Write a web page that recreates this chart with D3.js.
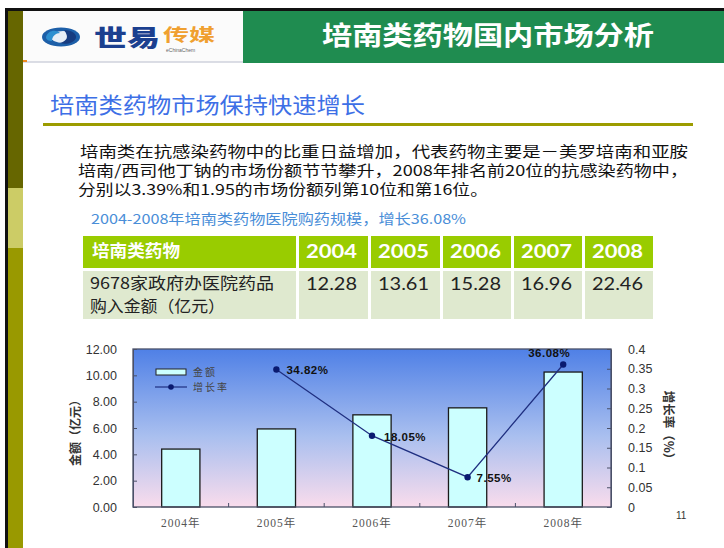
<!DOCTYPE html>
<html><head><meta charset="utf-8">
<script src="https://cdn.jsdelivr.net/npm/d3@7"></script>
<style>html,body{margin:0;padding:0;background:#fff;}svg{display:block;}</style>
</head><body>
<script>
// ---- data ----
const categories = ["2004年","2005年","2006年","2007年","2008年"];
const amounts = [4.40, 5.93, 7.00, 7.53, 10.25];
const growth = [null, 0.3482, 0.1805, 0.0755, 0.3608];
const growthLabels = ["", "34.82%", "18.05%", "7.55%", "36.08%"];
const leftTicks = [0, 2, 4, 6, 8, 10, 12];
const rightTicks = [0, 0.05, 0.1, 0.15, 0.2, 0.25, 0.3, 0.35, 0.4];
const rightTickLabels = ["0","0.05","0.1","0.15","0.2","0.25","0.3","0.35","0.4"];
const tableYears = ["2004","2005","2006","2007","2008"];
const tableValues = ["12.28","13.61","15.28","16.96","22.46"];
const paragraph = [
  "培南类在抗感染药物中的比重日益增加，代表药物主要是－美罗培南和亚胺",
  "培南/西司他丁钠的市场份额节节攀升，2008年排名前20位的抗感染药物中，",
  "分别以3.39%和1.95的市场份额列第10位和第16位。"
];

const W = 724, H = 548;
const svg = d3.select("body").append("svg").attr("width", W).attr("height", H)
  .style("font-family", "'Noto Sans CJK SC', sans-serif");
const defs = svg.append("defs");

// ---- slide frame ----
svg.append("rect").attr("x",0).attr("y",0).attr("width",W).attr("height",H).attr("fill","#fff");
svg.append("rect").attr("x",5).attr("y",8).attr("width",W-5).attr("height",3).attr("fill","#111");
svg.append("rect").attr("x",5).attr("y",8).attr("width",3).attr("height",H-8).attr("fill","#111");
svg.append("rect").attr("x",8).attr("y",11).attr("width",15).attr("height",177).attr("fill","#666600");
svg.append("rect").attr("x",8).attr("y",188).attr("width",15).attr("height",60).attr("fill","#cccc66");
svg.append("rect").attr("x",8).attr("y",248).attr("width",15).attr("height",H-248).attr("fill","#999900");

// header logo area
svg.append("rect").attr("x",23).attr("y",11).attr("width",220).attr("height",51).attr("fill","#fbfbfb");
svg.append("line").attr("x1",23).attr("x2",243).attr("y1",62).attr("y2",62).attr("stroke","#b8bccc").attr("stroke-width",1);
svg.append("rect").attr("x",23).attr("y",60).attr("width",4).attr("height",2).attr("fill","#f08a20");
// logo swirl
const lg = svg.append("g");
lg.append("ellipse").attr("cx",61).attr("cy",37).attr("rx",19).attr("ry",9.5).attr("fill","#1d5fa8");
lg.append("ellipse").attr("cx",63).attr("cy",37).attr("rx",12).attr("ry",6).attr("fill","#e8eef6");
lg.append("path").attr("d","M46,37 C48,30 56,29 60,33 C56,33 52,36 52,41 C49,41 46,40 46,37Z").attr("fill","#2d8fd0");
lg.append("path").attr("d","M64,30 C72,30 77,34 76,38 C74,43 66,45 60,43 C66,41 70,38 64,30Z").attr("fill","#173c80");
svg.append("text").attr("x",94).attr("y",46).attr("font-size",23).attr("font-weight",900)
  .attr("fill","#1b3f8f").attr("textLength",66).attr("lengthAdjust","spacingAndGlyphs").text("世易");
svg.append("text").attr("x",163).attr("y",41).attr("font-size",17).attr("font-weight",700)
  .attr("fill","#f0a030").attr("textLength",52).attr("lengthAdjust","spacingAndGlyphs").text("传媒");
svg.append("text").attr("x",166).attr("y",52).attr("font-size",5).attr("fill","#666")
  .style("font-family","Arial, sans-serif").text("eChinaChem");

// green title
svg.append("rect").attr("x",243).attr("y",11).attr("width",W-243).attr("height",52).attr("fill","#1f8c50");
svg.append("text").attr("x",322).attr("y",45).attr("font-size",26).attr("font-weight",700)
  .attr("fill","#fff").attr("textLength",332).attr("lengthAdjust","spacingAndGlyphs").text("培南类药物国内市场分析");

// subtitle
svg.append("text").attr("x",50).attr("y",113).attr("font-size",22).attr("fill","#3d6fe6")
  .attr("textLength",315).attr("lengthAdjust","spacingAndGlyphs").text("培南类药物市场保持快速增长");
svg.append("rect").attr("x",43).attr("y",123).attr("width",650).attr("height",3).attr("fill","#9c9c00");

// paragraph
const pLines = [{x:80,y:157,w:608},{x:78,y:176,w:610},{x:78,y:195,w:410}];
paragraph.forEach((t,i)=>{
  svg.append("text").attr("x",pLines[i].x).attr("y",pLines[i].y).attr("font-size",15)
    .attr("fill","#111")
    .attr("textLength",pLines[i].w).attr("lengthAdjust","spacingAndGlyphs").text(t);
});
svg.append("text").attr("x",91).attr("y",224).attr("font-size",13.5).attr("fill","#4a8ed8")
  .attr("textLength",375).attr("lengthAdjust","spacingAndGlyphs").text("2004-2008年培南类药物医院购药规模，增长36.08%");

// ---- table ----
const colX = [83, 297, 369, 441, 512, 583, 654];
const tg = svg.append("g");
for (let c=0;c<6;c++){
  const x0 = colX[c] + (c>0?2:0), x1 = colX[c+1] - 1;
  tg.append("rect").attr("x",x0).attr("y",236).attr("width",x1-x0).attr("height",32).attr("fill","#99cc00");
  tg.append("rect").attr("x",x0).attr("y",271).attr("width",x1-x0).attr("height",48).attr("fill","#dfe9cf");
}
tg.append("text").attr("x",92).attr("y",257).attr("font-size",17).attr("font-weight",700).attr("fill","#fff")
  .attr("textLength",88).attr("lengthAdjust","spacingAndGlyphs").text("培南类药物");
tableYears.forEach((t,i)=>{
  tg.append("text").attr("x",colX[i+1]+9).attr("y",258).attr("font-size",18).attr("font-weight",700)
    .attr("fill","#fff").style("font-family","Lato, 'Open Sans', sans-serif")
    .attr("textLength",51).attr("lengthAdjust","spacingAndGlyphs").text(t);
  tg.append("text").attr("x",colX[i+1]+9).attr("y",290).attr("font-size",18)
    .attr("fill","#222").style("font-family","Lato, 'Open Sans', sans-serif")
    .attr("textLength",51).attr("lengthAdjust","spacingAndGlyphs").text(tableValues[i]);
});
tg.append("text").attr("x",90).attr("y",289).attr("font-size",16).attr("fill","#222")
  .attr("textLength",184).attr("lengthAdjust","spacingAndGlyphs").text("9678家政府办医院药品");
tg.append("text").attr("x",90).attr("y",312).attr("font-size",16).attr("fill","#222")
  .attr("textLength",135).attr("lengthAdjust","spacingAndGlyphs").text("购入金额（亿元）");

// ---- chart ----
const cg = svg.append("g");
cg.append("rect").attr("x",68).attr("y",338).attr("width",612).attr("height",192).attr("fill","#fff");
const pl = 133, pr = 611, pt = 349, pb = 507;
const x = d3.scaleBand().domain(categories).range([pl, pr]).paddingInner(0.6).paddingOuter(0.3);
const yL = d3.scaleLinear().domain([0, 12]).range([pb, pt]);
const yR = d3.scaleLinear().domain([0, 0.4]).range([pb, pt]);

const grad = defs.append("linearGradient").attr("id","bg").attr("x1",0).attr("y1",0).attr("x2",0).attr("y2",1);
grad.append("stop").attr("offset","0%").attr("stop-color","#4f80e6");
grad.append("stop").attr("offset","55%").attr("stop-color","#a9bfef");
grad.append("stop").attr("offset","100%").attr("stop-color","#f9dcec");
cg.append("rect").attr("x",pl).attr("y",pt).attr("width",pr-pl).attr("height",pb-pt).attr("fill","url(#bg)");

// bars
cg.selectAll("rect.bar").data(amounts).join("rect").attr("class","bar")
  .attr("x",(d,i)=>x(categories[i])).attr("width",x.bandwidth())
  .attr("y",d=>yL(d)).attr("height",d=>pb-yL(d))
  .attr("fill","#ccffff").attr("stroke","#1a1a1a").attr("stroke-width",1.3);

// frame
cg.append("rect").attr("x",pl).attr("y",pt).attr("width",pr-pl).attr("height",pb-pt)
  .attr("fill","none").attr("stroke","#4a5068").attr("stroke-width",1.3);

// axes
const axL = d3.axisLeft(yL).tickValues(leftTicks).tickFormat(d3.format(".2f")).tickSizeInner(-4).tickSizeOuter(0).tickPadding(16);
const gL = cg.append("g").attr("transform",`translate(${pl},0)`).call(axL);
const axR = d3.axisRight(yR).tickValues(rightTicks).tickFormat((d,i)=>rightTickLabels[i]).tickSizeInner(-4).tickSizeOuter(0).tickPadding(17);
const gR = cg.append("g").attr("transform",`translate(${pr},0)`).call(axR);
[gL,gR].forEach(g=>{
  g.select(".domain").attr("stroke","#4a5068");
  g.selectAll(".tick line").attr("stroke","#4a5068");
  g.selectAll("text").attr("fill","#333").attr("font-size",12.5).style("font-family","'Liberation Sans', Arial, sans-serif");
});
const axB = d3.axisBottom(x).tickSize(0).tickPadding(12);
const gB = cg.append("g").attr("transform",`translate(0,${pb})`).call(axB);
gB.select(".domain").remove();
gB.selectAll("text").attr("fill","#555").attr("font-size",11.5).style("font-family","'Liberation Serif','Noto Sans CJK SC',serif")
  .attr("letter-spacing",1);
// boundary ticks between categories
cg.selectAll("line.btick").data(categories.slice(1)).join("line").attr("class","btick")
  .attr("x1",d=>x(d)-x.step()*x.paddingInner()/2).attr("x2",d=>x(d)-x.step()*x.paddingInner()/2)
  .attr("y1",pb).attr("y2",pb-4).attr("stroke","#4a5068");

// axis titles
cg.append("text").attr("transform","translate(80,430) rotate(-90)").attr("text-anchor","middle")
  .attr("font-size",12).attr("font-weight",700).attr("fill","#333").text("金额（亿元）");
cg.append("text").attr("transform","translate(664,428) rotate(90)").attr("text-anchor","middle")
  .attr("font-size",12.5).attr("font-weight",700).attr("fill","#333").text("增长率（%）");

// growth line
const pts = growth.map((g,i)=>({g,i})).filter(d=>d.g!==null);
const line = d3.line().x(d=>x(categories[d.i])+x.bandwidth()/2).y(d=>yR(d.g));
cg.append("path").datum(pts).attr("d",line).attr("fill","none").attr("stroke","#1f2f80").attr("stroke-width",1.3);
cg.selectAll("circle.pt").data(pts).join("circle").attr("class","pt")
  .attr("cx",d=>x(categories[d.i])+x.bandwidth()/2).attr("cy",d=>yR(d.g)).attr("r",3.2).attr("fill","#0a1a70");
const lblOff = {1:[10,5], 2:[12,5], 3:[9,5], 4:[-35,-7]};
cg.selectAll("text.lbl").data(pts).join("text").attr("class","lbl")
  .attr("x",d=>x(categories[d.i])+x.bandwidth()/2+lblOff[d.i][0])
  .attr("y",d=>yR(d.g)+lblOff[d.i][1])
  .attr("font-size",11.5).attr("font-weight",700).attr("fill","#111")
  .style("font-family","'Liberation Sans', Arial, sans-serif").attr("letter-spacing",0.5)
  .text(d=>growthLabels[d.i]);

// legend
cg.append("rect").attr("x",156).attr("y",369).attr("width",30).attr("height",6).attr("fill","#ccffff").attr("stroke","#222").attr("stroke-width",1);
cg.append("text").attr("x",193).attr("y",376).attr("font-size",10).attr("fill","#444").attr("letter-spacing",2).text("金额");
cg.append("line").attr("x1",155).attr("x2",187).attr("y1",387).attr("y2",387).attr("stroke","#1f2f80").attr("stroke-width",1.2);
cg.append("circle").attr("cx",171).attr("cy",387).attr("r",2.8).attr("fill","#0a1a70");
cg.append("text").attr("x",193).attr("y",391).attr("font-size",10).attr("fill","#444").attr("letter-spacing",2).text("增长率");

// page number
svg.append("text").attr("x",676).attr("y",519).attr("font-size",10).attr("fill","#333")
  .style("font-family","'Liberation Sans', Arial, sans-serif").text("11");
</script>
</body></html>
